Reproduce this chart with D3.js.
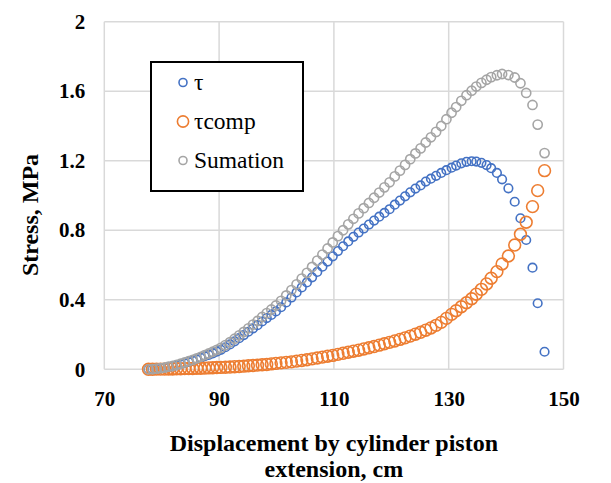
<!DOCTYPE html>
<html>
<head>
<meta charset="utf-8">
<script src="https://cdn.jsdelivr.net/npm/d3@7"></script>
<style>
  html, body { margin: 0; padding: 0; background: #fff; }
  svg { display: block; }
</style>
</head>
<body>
<svg id="chart"></svg>
<script>
// Displacement values (cm), shared by all three series
const displacement = [
  77.7, 78.4, 79.1, 79.8, 80.5, 81.2, 81.9, 82.6, 83.3, 84.0,
  84.7, 85.4, 86.1, 86.8, 87.5, 88.2, 88.9, 89.6, 90.3, 91.1,
  91.9, 92.7, 93.5, 94.3, 95.1, 95.9, 96.7, 97.5, 98.3, 99.1,
  99.9, 100.8, 101.7, 102.6, 103.5, 104.4, 105.3, 106.2, 107.1, 108.0,
  108.9, 109.8, 110.7, 111.6, 112.5, 113.4, 114.3, 115.2, 116.1, 117.0,
  117.9, 118.8, 119.7, 120.6, 121.5, 122.4, 123.3, 124.2, 125.1, 126.0,
  126.9, 127.8, 128.7, 129.6, 130.5, 131.3, 132.2, 133.1, 134.0, 134.8,
  135.7, 136.6, 137.4, 138.4, 139.3, 140.4, 141.5, 142.5, 143.5, 144.6,
  145.5, 146.7
];

// τ (MPa)
const tau = [
  0, 0.001, 0.003, 0.006, 0.009, 0.013, 0.017, 0.023, 0.029, 0.035,
  0.042, 0.049, 0.057, 0.066, 0.075, 0.083, 0.092, 0.102, 0.112, 0.127,
  0.143, 0.161, 0.179, 0.197, 0.216, 0.235, 0.254, 0.275, 0.295, 0.313,
  0.333, 0.357, 0.385, 0.413, 0.442, 0.471, 0.500, 0.529, 0.560, 0.590,
  0.620, 0.650, 0.680, 0.708, 0.736, 0.762, 0.787, 0.810, 0.833, 0.856,
  0.878, 0.900, 0.921, 0.947, 0.971, 0.995, 1.018, 1.040, 1.058, 1.080,
  1.097, 1.113, 1.130, 1.146, 1.160, 1.172, 1.185, 1.194, 1.197, 1.195,
  1.188, 1.175, 1.157, 1.130, 1.093, 1.041, 0.964, 0.869, 0.744, 0.585,
  0.380, 0.101
];

// τcomp (MPa)
const tauComp = [
  0, 0, 0.001, 0.001, 0.001, 0.002, 0.002, 0.003, 0.003, 0.004,
  0.005, 0.005, 0.006, 0.006, 0.007, 0.008, 0.009, 0.010, 0.011, 0.012,
  0.013, 0.015, 0.016, 0.018, 0.020, 0.022, 0.024, 0.026, 0.028, 0.031,
  0.034, 0.037, 0.040, 0.043, 0.047, 0.051, 0.055, 0.060, 0.065, 0.070,
  0.075, 0.080, 0.086, 0.092, 0.098, 0.104, 0.110, 0.117, 0.124, 0.131,
  0.139, 0.147, 0.155, 0.163, 0.172, 0.181, 0.191, 0.202, 0.213, 0.225,
  0.238, 0.253, 0.270, 0.293, 0.316, 0.337, 0.360, 0.383, 0.406, 0.432,
  0.460, 0.491, 0.524, 0.562, 0.606, 0.652, 0.715, 0.777, 0.846, 0.936,
  1.028, 1.143
];

// Sumation (MPa)
const sumation = [
  0, 0.001, 0.004, 0.007, 0.010, 0.015, 0.019, 0.026, 0.032, 0.039,
  0.047, 0.054, 0.063, 0.072, 0.082, 0.091, 0.101, 0.112, 0.123, 0.139,
  0.156, 0.176, 0.195, 0.215, 0.236, 0.257, 0.278, 0.301, 0.323, 0.344,
  0.367, 0.394, 0.425, 0.456, 0.489, 0.522, 0.555, 0.589, 0.625, 0.660,
  0.695, 0.730, 0.766, 0.800, 0.834, 0.866, 0.897, 0.927, 0.957, 0.987,
  1.017, 1.047, 1.076, 1.110, 1.143, 1.176, 1.209, 1.242, 1.271, 1.305,
  1.335, 1.366, 1.400, 1.439, 1.476, 1.509, 1.545, 1.577, 1.603, 1.627,
  1.648, 1.666, 1.681, 1.692, 1.699, 1.693, 1.679, 1.646, 1.590, 1.521,
  1.408, 1.244
];

const xTicks = [70, 90, 110, 130, 150];
const yTicks = [0, 0.4, 0.8, 1.2, 1.6, 2];

const seriesNames = ["τ", "τcomp", "Sumation"];
const seriesValues = [tau, tauComp, sumation];

// Chart dimensions
const width = 611;
const height = 483;
const plot = { left: 104.3, right: 563.5, top: 21.7, bottom: 369.3 };
const serif = "Liberation Serif";

const colors = ["#4472C4", "#ED7D31", "#A5A5A5"];
const radius = [4.3, 5.9, 4.6];
const legendRadius = [4, 5.6, 4];

// Scales
const xScale = d3.scaleLinear().domain([70, 150]).range([plot.left, plot.right]);
const yScale = d3.scaleLinear().domain([0, 2]).range([plot.bottom, plot.top]);

const svg = d3.select("#chart")
  .attr("width", width)
  .attr("height", height)
  .attr("font-family", serif);

// Gridlines
svg.append("g")
  .selectAll("line")
  .data(xTicks)
  .join("line")
  .attr("x1", d => xScale(d)).attr("x2", d => xScale(d))
  .attr("y1", plot.top).attr("y2", plot.bottom)
  .attr("stroke", "#D9D9D9").attr("stroke-width", 1.5);

svg.append("g")
  .selectAll("line")
  .data(yTicks)
  .join("line")
  .attr("x1", plot.left).attr("x2", plot.right)
  .attr("y1", d => yScale(d)).attr("y2", d => yScale(d))
  .attr("stroke", "#D9D9D9").attr("stroke-width", 1.5);

// X-Axis labels
const xAxis = d3.axisBottom(xScale).tickValues(xTicks).tickSize(0).tickPadding(22);
const gx = svg.append("g")
  .attr("transform", `translate(0, ${plot.bottom})`)
  .call(xAxis)
  .attr("font-family", serif)
  .attr("font-size", 21)
  .attr("font-weight", "bold");
gx.select(".domain").remove();
gx.selectAll("text").attr("fill", "#000");

// Y-Axis labels
const yAxis = d3.axisLeft(yScale).tickValues(yTicks).tickSize(0).tickPadding(19)
  .tickFormat(d => d);
const gy = svg.append("g")
  .attr("transform", `translate(${plot.left}, 0)`)
  .call(yAxis)
  .attr("font-family", serif)
  .attr("font-size", 21)
  .attr("font-weight", "bold");
gy.select(".domain").remove();
gy.selectAll("text").attr("fill", "#000");

// Data points
seriesValues.forEach((values, s) => {
  svg.append("g")
    .selectAll("circle")
    .data(values)
    .join("circle")
    .attr("cx", (d, i) => xScale(displacement[i]))
    .attr("cy", d => yScale(d))
    .attr("r", radius[s])
    .attr("fill", "none")
    .attr("stroke", colors[s])
    .attr("stroke-width", 1.6);
});

// Axis titles
svg.append("text")
  .attr("x", (plot.left + plot.right) / 2)
  .attr("y", 451)
  .attr("text-anchor", "middle")
  .attr("font-size", 24).attr("font-weight", "bold")
  .text("Displacement by cylinder piston");

svg.append("text")
  .attr("x", (plot.left + plot.right) / 2)
  .attr("y", 477)
  .attr("text-anchor", "middle")
  .attr("font-size", 24).attr("font-weight", "bold")
  .text("extension, cm");

svg.append("text")
  .attr("transform", "translate(38, 215) rotate(-90)")
  .attr("text-anchor", "middle")
  .attr("font-size", 24).attr("font-weight", "bold")
  .text("Stress, MPa");

// Legend
const legendX = 151, legendY = 62;
svg.append("rect")
  .attr("x", legendX).attr("y", legendY)
  .attr("width", 152).attr("height", 129)
  .attr("fill", "#fff").attr("stroke", "#000").attr("stroke-width", 2);

seriesNames.forEach((name, i) => {
  const cy = legendY + 20.5 + i * 39;
  svg.append("circle")
    .attr("cx", legendX + 32).attr("cy", cy)
    .attr("r", legendRadius[i])
    .attr("fill", "none")
    .attr("stroke", colors[i])
    .attr("stroke-width", 1.6);
  svg.append("text")
    .attr("x", legendX + 43).attr("y", cy + 7.5)
    .attr("font-size", 23.5)
    .text(name);
});
</script>
</body>
</html>
